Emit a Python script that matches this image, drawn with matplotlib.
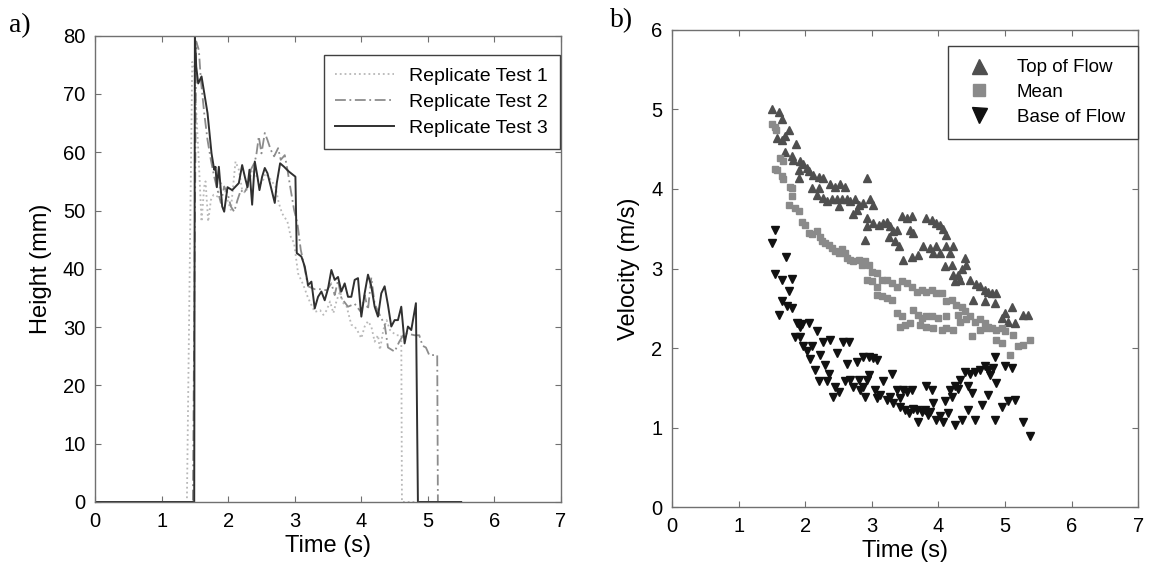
import matplotlib
matplotlib.use('Agg')
import matplotlib.pyplot as plt

plt.rcParams['font.family'] = ['Liberation Sans', 'DejaVu Sans']

# ---- panel a) : flow height, three replicate tests ----
t_rep1 = [0, 1.38, 1.46, 1.49, 1.52, 1.56, 1.60, 1.64, 1.66, 1.70, 1.74, 1.78, 1.84, 1.89, 1.94,
          1.99, 2.04, 2.11, 2.16, 2.21, 2.26, 2.31, 2.36, 2.41, 2.46, 2.51, 2.56, 2.64, 2.71, 2.76,
          2.81, 2.89, 2.94, 2.99, 3.05, 3.13, 3.20, 3.30, 3.38, 3.43, 3.48, 3.53, 3.58, 3.63, 3.68,
          3.73, 3.78, 3.85, 3.90, 3.95, 4.00, 4.05, 4.10, 4.15, 4.20, 4.25, 4.28, 4.33, 4.38, 4.43,
          4.48, 4.53, 4.60, 4.61, 5.5]
h_rep1 = [0, 0, 75.5, 74.7, 67.3, 58.1, 48.1, 54.1, 55.0, 48.1, 51.8, 52.7, 52.4, 54.7, 54.1,
          51.8, 50.1, 58.4, 57.0, 53.5, 53.0, 54.7, 57.0, 56.4, 54.7, 54.7, 56.4, 55.3, 54.1, 51.3,
          49.5, 48.1, 45.5, 44.4, 39.2, 37.2, 35.0, 32.6, 32.9, 32.1, 32.9, 34.4, 32.4, 34.6, 36.1,
          34.1, 33.5, 30.4, 30.1, 29.2, 28.1, 30.1, 31.0, 30.1, 27.5, 28.6, 26.1, 29.5, 31.2, 29.5,
          29.0, 28.6, 28.6, 0, 0]

t_rep2 = [0, 1.47, 1.52, 1.56, 1.59, 1.64, 1.69, 1.74, 1.79, 1.84, 1.89, 1.94, 1.99, 2.04, 2.09,
          2.14, 2.19, 2.24, 2.29, 2.34, 2.39, 2.42, 2.46, 2.50, 2.55, 2.59, 2.64, 2.69, 2.75, 2.79,
          2.85, 2.89, 2.94, 2.99, 3.04, 3.09, 3.15, 3.20, 3.30, 3.40, 3.48, 3.55, 3.60, 3.65, 3.70,
          3.80, 3.90, 4.00, 4.05, 4.10, 4.15, 4.20, 4.30, 4.35, 4.40, 4.50, 4.57, 4.65, 4.80, 4.87,
          4.92, 4.97, 5.02, 5.14, 5.15, 5.5]
h_rep2 = [0, 0, 79.0, 77.5, 72.4, 66.7, 62.1, 58.7, 55.8, 53.5, 51.3, 54.1, 53.0, 50.7, 49.8,
          51.8, 53.5, 53.0, 54.1, 57.0, 58.1, 59.3, 62.7, 59.8, 63.3, 62.1, 60.4, 59.3, 60.7, 58.7,
          59.5, 57.0, 53.5, 50.1, 47.8, 43.3, 40.0, 37.0, 36.5, 36.5, 36.3, 37.5, 35.5, 38.0, 35.0,
          33.5, 34.0, 32.5, 35.5, 33.0, 38.5, 34.0, 31.5, 30.5, 26.5, 25.8, 27.5, 29.0, 28.6, 28.6,
          26.8, 26.5, 25.2, 25.2, 0, 0]

t_rep3 = [0, 1.49, 1.50, 1.52, 1.55, 1.60, 1.69, 1.75, 1.79, 1.81, 1.83, 1.86, 1.91, 1.94, 1.99,
          2.06, 2.11, 2.16, 2.21, 2.25, 2.29, 2.32, 2.36, 2.40, 2.44, 2.47, 2.51, 2.55, 2.59, 2.64,
          2.70, 2.73, 2.78, 2.84, 2.91, 3.01, 3.03, 3.10, 3.15, 3.20, 3.25, 3.30, 3.35, 3.40, 3.45,
          3.50, 3.55, 3.60, 3.65, 3.70, 3.75, 3.80, 3.85, 3.90, 3.95, 4.00, 4.05, 4.10, 4.15, 4.20,
          4.25, 4.30, 4.35, 4.40, 4.45, 4.50, 4.55, 4.60, 4.65, 4.70, 4.75, 4.82, 4.85, 5.5]
h_rep3 = [0, 0, 80.0, 74.7, 71.8, 73.0, 66.7, 59.8, 57.0, 57.5, 54.0, 57.5, 50.7, 49.8, 54.0,
          53.5, 54.1, 54.7, 57.8, 55.8, 54.0, 57.0, 51.0, 58.4, 55.8, 53.5, 55.8, 57.3, 56.4, 54.1,
          51.3, 54.7, 58.1, 57.5, 56.7, 55.8, 42.7, 42.1, 40.4, 37.2, 37.8, 33.2, 35.2, 36.1, 34.6,
          36.6, 39.8, 38.1, 38.6, 36.1, 37.5, 35.2, 35.2, 38.1, 38.4, 31.8, 35.8, 39.0, 37.0, 33.5,
          31.8, 35.8, 37.0, 33.8, 30.1, 31.2, 31.2, 33.5, 27.2, 30.1, 29.5, 34.1, 0, 0]

# ---- panel b) : velocity ----
t_top = [1.50, 1.60, 1.65, 1.76, 1.57, 1.65, 1.70, 1.86, 1.70, 1.80, 1.82, 1.92, 1.97, 1.90,
         2.02, 2.05, 2.12, 1.90, 2.20, 2.26, 2.10, 2.20, 2.37, 2.45, 2.52, 2.60, 2.92, 2.17,
         2.27, 2.33, 2.40, 2.47, 2.55, 2.62, 2.67, 2.75, 2.80, 2.87, 2.97, 3.02, 2.50, 2.77,
         2.72, 2.92, 3.02, 3.10, 3.17, 3.22, 3.27, 3.32, 3.37, 3.45, 3.52, 3.60, 3.82, 3.90,
         3.97, 3.57, 3.62, 3.40, 3.47, 3.60, 3.70, 3.77, 3.87, 3.92, 3.25, 3.35, 2.92, 2.90,
         4.02, 4.07, 4.12, 3.97, 4.02, 4.12, 4.22, 4.17, 4.20, 4.10, 4.40, 4.42, 4.35, 4.30,
         4.32, 4.22, 4.25, 4.47, 4.57, 4.62, 4.70, 4.75, 4.80, 4.87, 4.52, 4.70, 4.85, 5.10,
         5.00, 4.95, 5.05, 5.15, 5.27, 5.35]
v_top = [5.00, 4.97, 4.88, 4.74, 4.64, 4.62, 4.66, 4.56, 4.46, 4.41, 4.37, 4.35, 4.31, 4.24,
         4.27, 4.22, 4.18, 4.14, 4.15, 4.14, 4.01, 4.01, 4.06, 4.03, 4.06, 4.03, 4.14, 3.92,
         3.89, 3.85, 3.87, 3.87, 3.87, 3.87, 3.85, 3.87, 3.80, 3.83, 3.87, 3.80, 3.78, 3.74,
         3.68, 3.64, 3.57, 3.55, 3.57, 3.59, 3.53, 3.47, 3.49, 3.66, 3.64, 3.66, 3.64, 3.61,
         3.57, 3.49, 3.45, 3.28, 3.11, 3.15, 3.17, 3.28, 3.26, 3.19, 3.40, 3.34, 3.53, 3.36,
         3.55, 3.50, 3.42, 3.28, 3.20, 3.28, 3.28, 3.20, 3.05, 3.03, 3.13, 3.05, 2.99, 2.92,
         2.86, 2.92, 2.84, 2.86, 2.80, 2.78, 2.73, 2.71, 2.69, 2.69, 2.61, 2.59, 2.57, 2.52,
         2.44, 2.38, 2.33, 2.32, 2.42, 2.42]

t_mean = [1.50, 1.55, 1.56, 1.62, 1.66, 1.55, 1.58, 1.65, 1.67, 1.77, 1.80, 1.80,
          1.75, 1.85, 1.90, 1.95, 2.00, 2.05, 2.10, 2.17, 2.22, 2.25, 2.30, 2.35, 2.40, 2.45,
          2.50, 2.55, 2.60, 2.62, 2.67, 2.72, 2.80, 2.85, 2.90, 2.95, 3.00, 3.07, 2.92, 3.00,
          3.07, 3.15, 3.22, 3.30, 3.37, 3.45, 3.52, 3.60, 3.67, 3.75, 3.82, 3.90, 3.97, 3.07,
          3.15, 3.22, 3.30, 3.37, 3.45, 3.62, 3.70, 3.75, 3.82, 3.90, 3.42, 3.50, 3.57, 3.72,
          3.82, 3.92, 4.00, 4.05, 4.12, 4.20, 4.27, 4.35, 4.40, 4.47, 4.55, 4.62, 4.70, 4.75,
          4.80, 4.87, 4.95, 5.00, 5.12, 5.27, 5.37, 5.20, 4.95, 4.87, 5.07, 4.50, 4.05, 4.12,
          4.22, 4.32, 4.42, 4.30, 4.12, 4.62, 4.72]
v_mean = [4.82, 4.78, 4.74, 4.39, 4.35, 4.25, 4.24, 4.16, 4.13, 4.03, 4.01, 3.91,
          3.80, 3.76, 3.72, 3.59, 3.55, 3.45, 3.43, 3.47, 3.40, 3.34, 3.32, 3.30, 3.26, 3.22,
          3.19, 3.24, 3.19, 3.13, 3.11, 3.09, 3.11, 3.05, 3.09, 3.05, 2.96, 2.94, 2.86, 2.84,
          2.77, 2.86, 2.86, 2.82, 2.77, 2.84, 2.82, 2.77, 2.71, 2.73, 2.71, 2.73, 2.69, 2.67,
          2.65, 2.63, 2.61, 2.44, 2.40, 2.48, 2.42, 2.38, 2.40, 2.40, 2.27, 2.29, 2.31, 2.29,
          2.27, 2.25, 2.38, 2.69, 2.59, 2.61, 2.54, 2.52, 2.46, 2.40, 2.33, 2.36, 2.31, 2.27,
          2.25, 2.23, 2.25, 2.21, 2.17, 2.04, 2.10, 2.02, 2.06, 2.10, 1.91, 2.15, 2.23, 2.25,
          2.23, 2.33, 2.36, 2.42, 2.40, 2.23, 2.25]

t_base = [1.55, 1.50, 1.71, 1.55, 1.65, 1.80, 1.75, 1.65, 1.72, 1.80, 1.60, 1.87, 1.95,
          2.05, 1.92, 2.17, 1.85, 1.92, 2.27, 2.37, 2.57, 2.65, 1.97, 2.10, 2.02, 2.22, 2.47,
          2.62, 2.77, 2.87, 2.95, 3.02, 3.07, 2.07, 2.15, 2.30, 2.35, 2.20, 2.32, 2.45, 2.50,
          2.42, 2.60, 2.67, 2.72, 2.80, 2.87, 2.92, 2.82, 2.95, 3.05, 2.90, 3.07, 3.12, 3.17,
          3.30, 3.22, 3.27, 3.32, 3.37, 3.42, 3.47, 3.52, 3.60, 3.42, 3.50, 3.55, 3.62, 3.67,
          3.75, 3.80, 3.87, 3.70, 3.85, 3.92, 3.97, 3.82, 3.90, 4.10, 4.17, 4.25, 4.20, 4.30,
          4.32, 4.45, 4.50, 4.40, 4.47, 4.55, 4.62, 4.70, 4.75, 4.82, 4.77, 4.87, 4.85, 5.00,
          5.10, 4.75, 4.65, 4.45, 4.55, 4.35, 4.25, 4.07, 4.02, 4.15, 4.85, 4.95, 5.05, 5.15,
          5.27, 5.37]
v_base = [3.48, 3.32, 3.14, 2.93, 2.86, 2.87, 2.72, 2.59, 2.53, 2.51, 2.41, 2.31, 2.30,
          2.31, 2.26, 2.21, 2.14, 2.14, 2.08, 2.10, 2.07, 2.07, 2.02, 2.03, 1.96, 1.91, 1.94,
          1.80, 1.83, 1.89, 1.89, 1.87, 1.85, 1.86, 1.72, 1.79, 1.68, 1.58, 1.58, 1.51, 1.45,
          1.39, 1.58, 1.60, 1.51, 1.60, 1.51, 1.60, 1.47, 1.66, 1.47, 1.39, 1.37, 1.41, 1.58,
          1.68, 1.35, 1.39, 1.31, 1.47, 1.37, 1.47, 1.45, 1.47, 1.26, 1.22, 1.18, 1.24, 1.22,
          1.20, 1.22, 1.20, 1.07, 1.16, 1.31, 1.09, 1.52, 1.47, 1.33, 1.47, 1.52, 1.39, 1.49,
          1.60, 1.52, 1.43, 1.70, 1.68, 1.70, 1.73, 1.77, 1.73, 1.75, 1.66, 1.56, 1.89, 1.77,
          1.75, 1.41, 1.28, 1.22, 1.10, 1.10, 1.03, 1.07, 1.14, 1.18, 1.10, 1.26, 1.33, 1.35,
          1.07, 0.89]

fig = plt.figure(figsize=(11.49, 5.75), dpi=100)
ax1 = fig.add_axes([0.0827, 0.127, 0.4056, 0.811])
ax2 = fig.add_axes([0.585, 0.118, 0.4056, 0.830])

ax1.plot(t_rep1, h_rep1, color='#b8b8b8', linestyle=':', linewidth=1.3, label='Replicate Test 1')
ax1.plot(t_rep2, h_rep2, color='#8c8c8c', linestyle=(0, (6, 2, 1, 2)), linewidth=1.3,
         label='Replicate Test 2')
ax1.plot(t_rep3, h_rep3, color='#303030', linestyle='-', linewidth=1.4, label='Replicate Test 3')
ax1.set_xlim(0, 7)
ax1.set_ylim(0, 80)
ax1.set_xticks(range(0, 8))
ax1.set_yticks(range(0, 81, 10))
ax1.set_xlabel('Time (s)', fontsize=17, labelpad=3)
ax1.set_ylabel('Height (mm)', fontsize=17, labelpad=8)
ax1.legend(loc='upper right', bbox_to_anchor=(0.997, 0.958), borderaxespad=0, fontsize=14,
           handlelength=3.0, fancybox=False, edgecolor='#404040', framealpha=1,
           borderpad=0.6, labelspacing=0.45, handletextpad=0.8)

ax2.plot(t_top, v_top, linestyle='none', marker='^', markersize=6, color='#4f4f4f',
         label='Top of Flow')
ax2.plot(t_mean, v_mean, linestyle='none', marker='s', markersize=4.4, color='#8a8a8a',
         label='Mean')
ax2.plot(t_base, v_base, linestyle='none', marker='v', markersize=6, color='#111111',
         label='Base of Flow')
ax2.set_xlim(0, 7)
ax2.set_ylim(0, 6)
ax2.set_xticks(range(0, 8))
ax2.set_yticks(range(0, 7))
ax2.set_xlabel('Time (s)', fontsize=17, labelpad=3)
ax2.set_ylabel('Velocity (m/s)', fontsize=17, labelpad=8)
ax2.legend(loc='upper right', bbox_to_anchor=(1.0, 0.966), borderaxespad=0, fontsize=13.5,
           markerscale=1.8, fancybox=False, edgecolor='#404040', framealpha=1,
           borderpad=0.7, labelspacing=0.4, handletextpad=1.0, handlelength=2.0)

for ax in (ax1, ax2):
    ax.tick_params(direction='in', length=4, width=0.8, color='#707070', labelsize=14.5,
                   top=True, right=True, pad=7)
    for sp in ax.spines.values():
        sp.set_color('#707070')
        sp.set_linewidth(1.0)

fig.text(0.008, 0.945, 'a)', fontsize=20, family='Liberation Serif')
fig.text(0.531, 0.952, 'b)', fontsize=20, family='Liberation Serif')

plt.savefig('out.png', dpi=100)
plt.close()
